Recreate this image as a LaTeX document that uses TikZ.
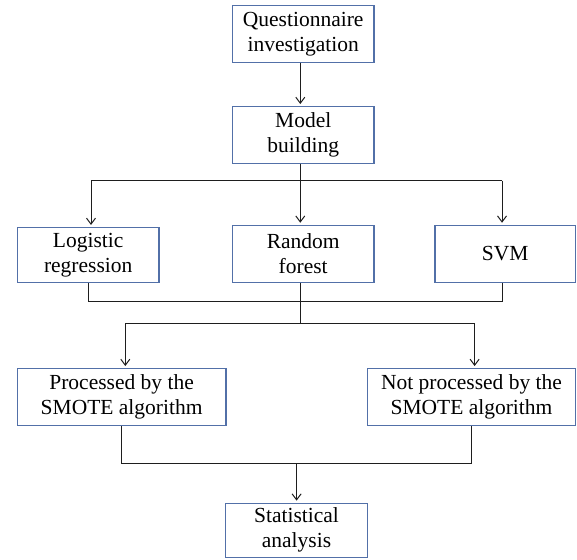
\documentclass[tikz,border=0pt]{standalone}
\usepackage{fontspec}
\setmainfont{Liberation Serif}
\usetikzlibrary{arrows.meta}
\definecolor{boxblue}{RGB}{82,112,168}
\definecolor{linegray}{RGB}{30,30,30}
\tikzset{
  box/.style={draw=boxblue, line width=1.3pt, inner sep=0pt, align=center,
    font=\fontsize{21.5}{25}\selectfont},
  conn/.style={draw=linegray, line width=1pt},
  arr/.style={conn, -{Straight Barb[length=6pt,width=9pt,line width=1pt]}, shorten >=2pt}
}
\begin{document}
\begin{tikzpicture}[x=1pt,y=-1pt]
\useasboundingbox (0,0) rectangle (577,559);
\node[box, minimum width=141.5pt, minimum height=56.6pt] (Q) at (303.2,34) {Questionnaire\\investigation};
\node[box, minimum width=141.5pt, minimum height=56.6pt] (M) at (303.2,135) {Model\\building};
\node[box, minimum width=141.7pt, minimum height=55pt] (L) at (88.2,255.1) {Logistic\\regression};
\node[box, minimum width=141.5pt, minimum height=57pt] (RF) at (303.2,253.9) {Random\\forest};
\node[box, minimum width=140.7pt, minimum height=57pt] (SVM) at (505.2,253.9) {SVM};
\node[box, minimum width=208.6pt, minimum height=57pt] (P) at (121.6,397.2) {Processed by the\\SMOTE algorithm};
\node[box, minimum width=208.1pt, minimum height=57pt] (N) at (471.5,397.2) {Not processed by the\\SMOTE algorithm};
\node[box, minimum width=142pt, minimum height=54pt] (S) at (296.5,530.3) {Statistical\\analysis};

% Questionnaire -> Model
\coordinate (qm) at (300.3,0);
\draw[arr] (Q.south -| qm) -- (M.north -| qm);

% Model -> three models
\coordinate (b0) at (300.3,180.7);
\coordinate (bL) at (91,180.7);
\coordinate (bR) at (502,180.7);
\draw[conn] (M.south -| b0) -- (b0);
\draw[conn] (bL) -- (bR);
\draw[arr] (bL) -- (bL |- L.north);
\draw[arr] (b0) -- (b0 |- RF.north);
\draw[arr] (bR) -- (bR |- SVM.north);

% merge of the three models
\coordinate (mL) at (88,301);
\coordinate (mC) at (300.3,301);
\coordinate (mR) at (502,301);
\draw[conn] (L.south -| mL) -- (mL) -- (mR) -- (SVM.south -| mR);
\draw[conn] (RF.south -| mC) -- (mC);

% split into SMOTE branches
\coordinate (sC) at (300.3,323.3);
\coordinate (sL) at (125.3,323.3);
\coordinate (sR) at (474.6,323.3);
\draw[conn] (mC) -- (sC);
\draw[conn] (sL) -- (sR);
\draw[arr] (sL) -- (sL |- P.north);
\draw[arr] (sR) -- (sR |- N.north);

% merge to statistical analysis
\coordinate (tL) at (121.6,463.7);
\coordinate (tR) at (471.6,463.7);
\coordinate (tC) at (296.6,463.7);
\draw[conn] (P.south -| tL) -- (tL) -- (tR) -- (N.south -| tR);
\draw[arr] (tC) -- (tC |- S.north);
\end{tikzpicture}
\end{document}
